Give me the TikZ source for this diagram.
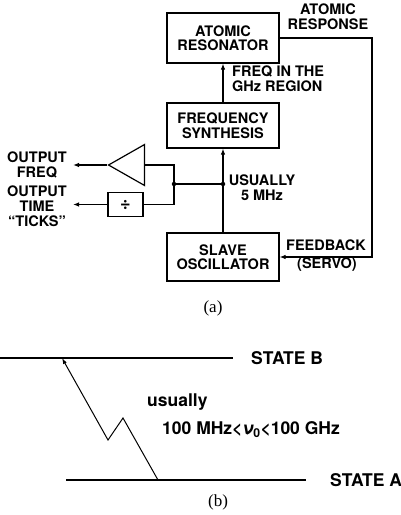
\documentclass[tikz,border=0pt]{standalone}
\usepackage{fontspec}
\setmainfont{Liberation Serif}
\setsansfont{TeX Gyre Heros}
\usetikzlibrary{arrows.meta,shapes.geometric}

\begin{document}
\begin{tikzpicture}[x=1pt, y=-1pt,
  blockbox/.style={draw, line width=1.2pt, align=center, font=\sffamily\bfseries\fontsize{14.5}{14.5}\selectfont, minimum width=112pt, inner sep=0pt},
  divbox/.style={draw, line width=1.2pt, font=\sffamily\bfseries\fontsize{18}{18}\selectfont, minimum width=35pt, minimum height=24pt, inner sep=0pt},
  amp/.style={draw, line width=1.2pt, isosceles triangle, shape border rotate=180, isosceles triangle stretches, minimum width=41pt, minimum height=36pt, inner sep=0pt},
  lbl/.style={align=center, font=\sffamily\bfseries\fontsize{14.5}{15}\selectfont, inner sep=0pt},
  statelbl/.style={font=\sffamily\bfseries\fontsize{17.5}{19}\selectfont, inner sep=0pt},
  caption/.style={font=\fontsize{17}{18}\selectfont, inner sep=0pt},
  dot/.style={circle, fill, inner sep=0pt, minimum size=4.5pt},
  arrow/.style={-{Latex[length=6pt,width=4.5pt]}, line width=1.1pt},
  wire/.style={line width=1.1pt},
  level/.style={line width=2pt},
  zig/.style={-{Latex[length=6pt,width=4pt]}, line width=1pt}
]
\useasboundingbox (0,0) rectangle (401,515);

\node[blockbox, minimum height=50pt] (res) at (223,38) {ATOMIC\\RESONATOR};
\node[blockbox, minimum height=45pt] (synth) at (223,125.5) {FREQUENCY\\SYNTHESIS};
\node[blockbox, minimum height=48pt] (slave) at (223,257) {SLAVE\\OSCILLATOR};
\node[amp, anchor=apex] (amp) at (107,165) {};
\node[divbox] (div) at (125.5,204.5) {÷};
\node[dot] (tap) at (223,184) {};
\node[dot] (split) at (174,184) {};
\coordinate (fb) at (372,150);
\coordinate (outf) at (73,165);
\coordinate (outt) at (73,204.5);

\node[lbl] (resp) at (328,17) {ATOMIC\\RESPONSE};
\node[lbl, align=left, anchor=west] (ghz) at (232,79) {FREQ IN THE\\GHz REGION};
\node[lbl] (usual) at (262,187.5) {USUALLY\\5 MHz};
\node[lbl] (fbtext) at (326,245) {FEEDBACK};
\node[lbl] (servo) at (327,265) {(SERVO)};
\node[lbl] (ofreq) at (37,164.5) {OUTPUT\\FREQ};
\node[lbl] (otime) at (37,206) {OUTPUT\\TIME\\“TICKS”};
\node[caption] (capa) at (213,308) {(a)};

\draw[arrow] (synth) -- (res);
\draw[arrow] (slave) -- (synth);
\draw[arrow] (res) -| (fb) |- (slave);
\draw[wire] (tap) -- (split);
\draw[wire] (amp.lower side) -| (split);
\draw[wire] (split) |- (div);
\draw[arrow] (amp.apex) -- (outf);
\draw[arrow] (div) -- (outt);

\coordinate (bL) at (0,358);
\coordinate (bR) at (233,358);
\coordinate (aL) at (66,480);
\coordinate (aR) at (306,480);
\coordinate (up) at (62,358);
\coordinate (k1) at (108,440);
\coordinate (k2) at (123,418);
\coordinate (lo) at (158,480);
\node[statelbl, anchor=west] (stateB) at (251,358) {STATE B};
\node[statelbl, anchor=west] (stateA) at (330,480) {STATE A};
\node[statelbl, anchor=west] (usually) at (147,402) {usually};
\node[statelbl, anchor=west] (range) at (162,430) {100 MHz<{\itshape ν}\textsubscript{0}<100 GHz};
\node[caption] (capb) at (218,502) {(b)};

\draw[level] (bL) -- (bR);
\draw[level] (aL) -- (aR);
\draw[zig] (lo) -- (k2) -- (k1) -- (up);
\end{tikzpicture}
\end{document}
